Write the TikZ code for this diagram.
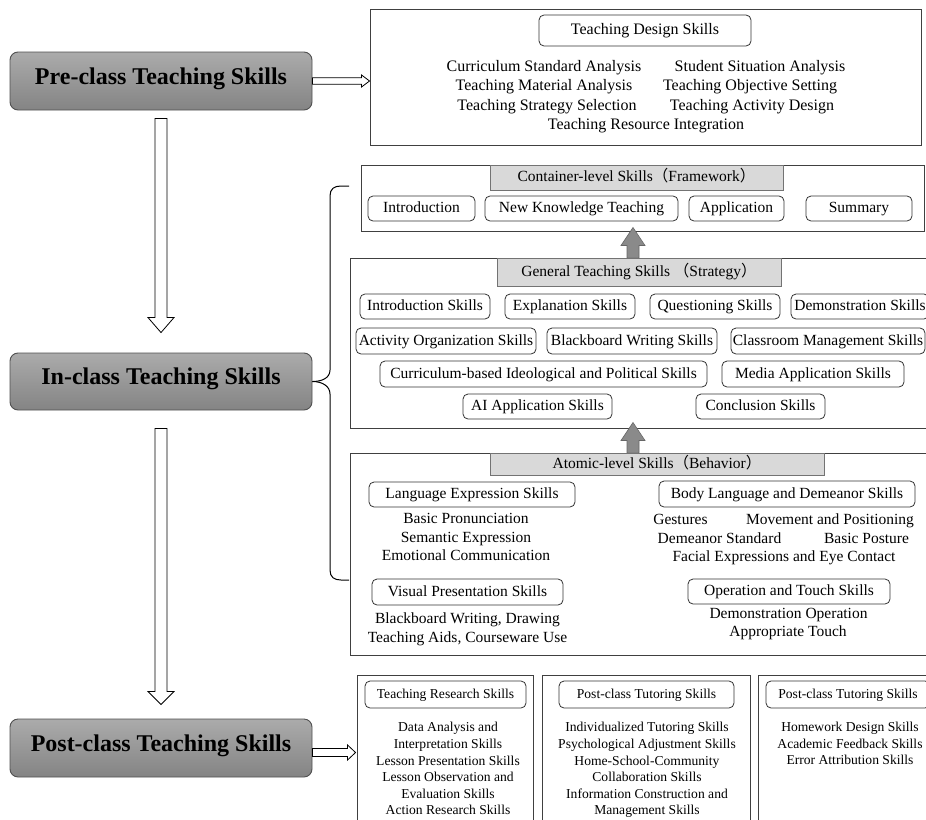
\documentclass[tikz,border=0pt]{standalone}
\usepackage{fontspec}
\setmainfont{Liberation Serif}
\newfontfamily\cjkf{Noto Sans CJK SC}
\usetikzlibrary{calc}
\definecolor{gtop}{HTML}{ABABAB}
\definecolor{gbot}{HTML}{848484}
\definecolor{hdrfill}{HTML}{D9D9D9}
\definecolor{edge}{HTML}{505050}
\definecolor{arrowgray}{HTML}{8A8A8A}
\newcommand\lp{{\cjkf （}}
\newcommand\rp{{\cjkf ）}}
\newcommand\szA{\fontsize{16}{19}\selectfont}
\newcommand\szB{\fontsize{15.5}{18}\selectfont}
\newcommand\szC{\fontsize{13.6}{16}\selectfont}
% box from corners: style, name, x1, y1, x2, y2, text
\newcommand\bx[7]{%
  \pgfmathsetmacro\bxw{#5-#3}\pgfmathsetmacro\bxh{#6-#4}%
  \node[#1, minimum width=\bxw pt, minimum height=\bxh pt] (#2) at ({(#3+#5)/2},{(#4+#6)/2}) {#7};}
\begin{document}
\begin{tikzpicture}[x=1pt,y=-1pt,
  mainbox/.style={draw=edge, line width=0.9pt, rounded corners=8pt, top color=gtop, bottom color=gbot,
    font=\fontsize{24}{28}\selectfont\bfseries, inner sep=0, text height=0.8em, text depth=0.12em},
  panel/.style={draw=black!75, line width=0.9pt, inner sep=0},
  hdr/.style={draw=black!55, fill=hdrfill, line width=0.8pt, inner sep=0, font=\szB,
    text height=0.9em, text depth=0.1em},
  pill/.style={draw=black!80, line width=0.8pt, rounded corners=5pt, inner sep=0, font=\szB,
    text height=0.9em, text depth=0.1em},
  pillA/.style={pill, font=\szA},
  pillC/.style={pill, font=\szC},
  lblA/.style={inner sep=0, font=\szA, text height=0.8em, text depth=0.15em},
  lblB/.style={inner sep=0, font=\szB, text height=0.8em, text depth=0.15em},
  lblC/.style={inner sep=0, font=\szC, text height=0.8em, text depth=0.15em},
  hollow/.style={draw=black, line width=0.8pt, fill=white},
  garrow/.style={draw=black!60, fill=arrowgray, line width=0.6pt},
  brace/.style={draw=black, line width=1pt}]
\useasboundingbox (0,0) rectangle (926,819);

% ---------- left main boxes ----------
\bx{mainbox}{pre}{10}{52}{312}{110}{Pre-class Teaching Skills}
\bx{mainbox}{in}{10}{353}{312}{410}{In-class Teaching Skills}
\bx{mainbox}{post}{10}{719}{312}{777}{Post-class Teaching Skills}

% ---------- top panel ----------
\bx{panel}{tp}{370}{9}{921}{145}{}
\bx{pillA}{tds}{539}{15}{751}{46}{Teaching Design Skills}
\node[lblA] (t1) at (544,68) {Curriculum Standard Analysis};
\node[lblA] (t2) at (760,68) {Student Situation Analysis};
\node[lblA] (t3) at (544,87) {Teaching Material Analysis};
\node[lblA] (t4) at (750,87) {Teaching Objective Setting};
\node[lblA] (t5) at (547,107) {Teaching Strategy Selection};
\node[lblA] (t6) at (752,107) {Teaching Activity Design};
\node[lblA] (t7) at (646,126) {Teaching Resource Integration};

% ---------- container panel ----------
\bx{panel}{cp}{361}{165}{924}{231}{}
\bx{hdr}{h1}{490}{165}{783}{190}{Container-level Skills\lp Framework\rp}
\bx{pill}{c1}{368}{196}{475}{221}{Introduction}
\bx{pill}{c2}{485}{196}{678}{221}{New Knowledge Teaching}
\bx{pill}{c3}{689}{196}{784}{221}{Application}
\bx{pill}{c4}{806}{196}{912}{221}{Summary}

% ---------- general panel ----------
\bx{panel}{gp}{350}{258}{945}{428}{}
\bx{hdr}{h2}{497}{258}{781}{286}{General Teaching Skills \lp Strategy\rp}
\bx{pill}{g1}{360}{294}{490}{319}{Introduction Skills}
\bx{pill}{g2}{505}{294}{635}{319}{Explanation Skills}
\bx{pill}{g3}{650}{294}{780}{319}{Questioning Skills}
\bx{pill}{g4}{791}{294}{929}{319}{Demonstration Skills}
\bx{pill}{g5}{356}{328}{536}{354}{Activity Organization Skills}
\bx{pill}{g6}{547}{328}{717}{354}{Blackboard Writing Skills}
\bx{pill}{g7}{731}{328}{925}{354}{Classroom Management Skills}
\bx{pill}{g8}{380}{361}{707}{387}{Curriculum-based Ideological and Political Skills}
\bx{pill}{g9}{722}{361}{904}{387}{Media Application Skills}
\bx{pill}{g10}{463}{394}{612}{419}{AI Application Skills}
\bx{pill}{g11}{696}{394}{825}{419}{Conclusion Skills}

% ---------- atomic panel ----------
\bx{panel}{ap}{350}{453}{945}{655}{}
\bx{hdr}{h3}{490}{453}{824}{475}{Atomic-level Skills\lp Behavior\rp}
\bx{pill}{a1}{369}{482}{575}{507}{Language Expression Skills}
\bx{pill}{a2}{659}{481}{915}{507}{Body Language and Demeanor Skills}
\bx{pill}{a3}{372}{579}{563}{605}{Visual Presentation Skills}
\bx{pill}{a4}{688}{579}{890}{604}{Operation and Touch Skills}
\node[lblB] (l1) at (466,520) {Basic Pronunciation};
\node[lblB] (l2) at (466,539) {Semantic Expression};
\node[lblB] (l3) at (466,557) {Emotional Communication};
\node[lblB] (l4) at (680.5,521) {Gestures};
\node[lblB] (l5) at (830,521) {Movement and Positioning};
\node[lblB] (l6) at (719.5,540) {Demeanor Standard};
\node[lblB] (l7) at (866.5,540) {Basic Posture};
\node[lblB] (l8) at (784,558) {Facial Expressions and Eye Contact};
\node[lblB] (l9) at (467.5,620) {Blackboard Writing, Drawing};
\node[lblB] (l10) at (467.5,639) {Teaching Aids, Courseware Use};
\node[lblB] (l11) at (788.5,615) {Demonstration Operation};
\node[lblB] (l12) at (788,633) {Appropriate Touch};

% ---------- bottom panels ----------
\bx{panel}{b1}{357}{675}{533}{840}{}
\bx{panel}{b2}{542}{675}{750}{840}{}
\bx{panel}{b3}{758}{675}{945}{840}{}
\bx{pillC}{p1}{365}{681}{526}{708}{Teaching Research Skills}
\bx{pillC}{p2}{559}{681}{734}{708}{Post-class Tutoring Skills}
\bx{pillC}{p3}{766}{681}{930}{708}{Post-class Tutoring Skills}
\node[lblC] (r1) at (448,728) {Data Analysis and};
\node[lblC] (r2) at (448,745) {Interpretation Skills};
\node[lblC] (r3) at (448,762) {Lesson Presentation Skills};
\node[lblC] (r4) at (448,778) {Lesson Observation and};
\node[lblC] (r5) at (448,795) {Evaluation Skills};
\node[lblC] (r6) at (448,811) {Action Research Skills};
\node[lblC] (s1) at (647,728) {Individualized Tutoring Skills};
\node[lblC] (s2) at (647,745) {Psychological Adjustment Skills};
\node[lblC] (s3) at (647,762) {Home-School-Community};
\node[lblC] (s4) at (647,778) {Collaboration Skills};
\node[lblC] (s5) at (647,795) {Information Construction and};
\node[lblC] (s6) at (647,811) {Management Skills};
\node[lblC] (u1) at (850,728) {Homework Design Skills};
\node[lblC] (u2) at (850,745) {Academic Feedback Skills};
\node[lblC] (u3) at (850,761) {Error Attribution Skills};

% ---------- hollow arrows ----------
% pre -> top panel
\draw[hollow] let \p1=(pre.east), \p2=(tp.west) in
  (\x1,\y1+3.3pt) -- (\x2-8pt,\y1+3.3pt) -- (\x2-8pt,\y1+6pt) -- (\x2,\y1)
  -- (\x2-8pt,\y1-6pt) -- (\x2-8pt,\y1-3.3pt) -- (\x1,\y1-3.3pt) -- cycle;
% post -> bottom panel
\draw[hollow] let \p1=(post.east), \p2=(b1.west) in
  (\x1,\y1-0.5pt) -- (\x2-9pt,\y1-0.5pt) -- (\x2-9pt,\y1+3pt) -- (\x2-1pt,\y1-4.5pt)
  -- (\x2-9pt,\y1-12pt) -- (\x2-9pt,\y1-8.5pt) -- (\x1,\y1-8.5pt) -- cycle;
% pre -> in
\draw[hollow] let \p1=(pre.south), \p2=(in.north) in
  (\x1-6pt,\y1-8pt) -- (\x1+6pt,\y1-8pt) -- (\x1+6pt,\y2+35pt) -- (\x1+13pt,\y2+35pt)
  -- (\x1,\y2+20pt) -- (\x1-13pt,\y2+35pt) -- (\x1-6pt,\y2+35pt) -- cycle;
% in -> post
\draw[hollow] let \p1=(in.south), \p2=(post.north) in
  (\x1-6pt,\y1-18pt) -- (\x1+6pt,\y1-18pt) -- (\x1+6pt,\y2+27pt) -- (\x1+13pt,\y2+27pt)
  -- (\x1,\y2+14pt) -- (\x1-13pt,\y2+27pt) -- (\x1-6pt,\y2+27pt) -- cycle;

% ---------- gray up arrows ----------
\coordinate (ua) at (633,0);
\draw[garrow] let \p1=(ua|-gp.north), \p2=(ua|-cp.south) in
  (\x1-6pt,\y1) -- (\x1-6pt,\y2-14pt) -- (\x1-12pt,\y2-14pt) -- (\x1,\y2+4pt)
  -- (\x1+12pt,\y2-14pt) -- (\x1+6pt,\y2-14pt) -- (\x1+6pt,\y1) -- cycle;
\draw[garrow] let \p1=(ua|-ap.north), \p2=(ua|-gp.south) in
  (\x1-6pt,\y1) -- (\x1-6pt,\y2-12pt) -- (\x1-12pt,\y2-12pt) -- (\x1,\y2+6pt)
  -- (\x1+12pt,\y2-12pt) -- (\x1+6pt,\y2-12pt) -- (\x1+6pt,\y1) -- cycle;

% ---------- brace ----------
\coordinate (bt) at (349,186);
\coordinate (bb) at (349,580);
\draw[brace] (in.east) .. controls (322,381.5) and (330,378) .. (330,370) -- (330,196)
  .. controls (330,189) and (334,186) .. (341,186) -- (bt);
\draw[brace] (in.east) .. controls (322,381.5) and (330,386) .. (330,394) -- (330,570)
  .. controls (330,577) and (334,580) .. (341,580) -- (bb);
\end{tikzpicture}
\end{document}
